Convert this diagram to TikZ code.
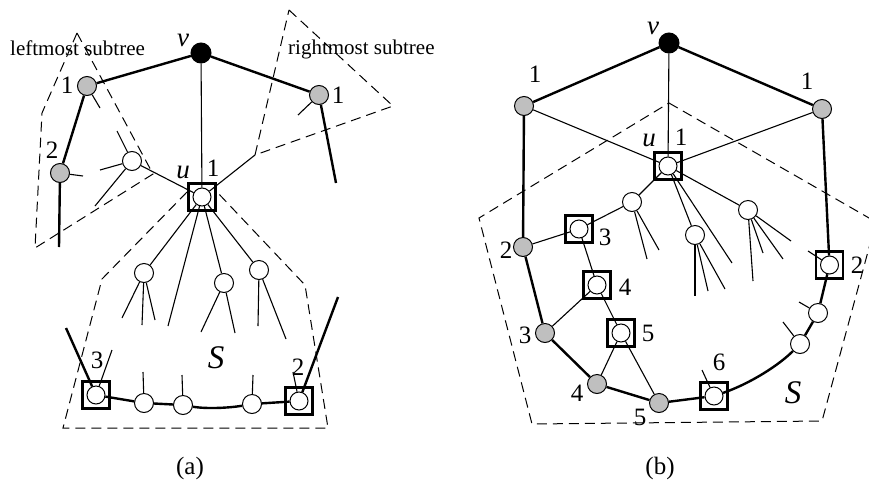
\documentclass[tikz,border=0pt]{standalone}
\usepackage{fontspec}
\setmainfont{Liberation Serif}
\pgfdeclarelayer{edges}
\pgfsetlayers{edges,main}
\begin{document}
\begin{tikzpicture}[x=1pt,y=-1pt,
  tedge/.style={line width=1.1pt},
  bedge/.style={line width=2.4pt},
  wn/.style={circle,draw,line width=1pt,fill=white,minimum size=19pt,inner sep=0pt},
  gn/.style={wn,fill=black!25},
  bn/.style={wn,fill=black,minimum size=20pt},
  bc/.style={circle,draw,line width=1pt,fill=white,minimum size=18pt,inner sep=0pt},
  bx/.style={draw,line width=2.4pt,minimum size=27pt,inner sep=0pt},
  lab/.style={font=\fontsize{25}{27}\selectfont,inner sep=0pt},
  ilab/.style={font=\fontsize{27}{29}\selectfont\itshape,inner sep=0pt},
  slab/.style={font=\fontsize{33}{35}\selectfont\itshape,inner sep=0pt},
  tlab/.style={font=\fontsize{21}{23}\selectfont,inner sep=0pt},
  dsh/.style={line width=1pt,dash pattern=on 10pt off 6pt}]
\useasboundingbox (0,0) rectangle (869,485);
\clip (0,0) rectangle (869,485);

% ---------------- panel (a) ----------------
\node[bn] (av) at (201,53) {};
\node[gn] (al1) at (87,86) {};
\node[gn] (al2) at (60,173) {};
\node[gn] (ar1) at (319,95) {};
\node[wn] (aw) at (132,161) {};
\node[bx] (aub) at (202,197) {};
\node[bc] (au) at (202,197) {};
\node[wn] (aA) at (144,273) {};
\node[wn] (aB) at (224,283) {};
\node[wn] (aC) at (259,270) {};
\node[bx] (a3b) at (96,395) {};
\node[bc] (a3) at (96,395) {};
\node[wn] (aD) at (144,403) {};
\node[wn] (aE) at (183,405) {};
\node[wn] (aF) at (252,404) {};
\node[bx] (a2b) at (299,401) {};
\node[bc] (a2) at (299,401) {};

\coordinate (al2e) at (59,247);
\coordinate (ar1e) at (336,183);
\coordinate (a3e) at (66,328);
\coordinate (a2e) at (338,297);
\coordinate (aRT) at (255,155);
\coordinate (al1s) at (100,108);
\coordinate (al2s) at (83,176);
\coordinate (ar1s) at (298,115);
\coordinate (aws1) at (117,131);
\coordinate (aws2) at (100,170);
\coordinate (aws3) at (95,206);
\coordinate (aul) at (168,326);
\coordinate (aA1) at (122,318);
\coordinate (aA2) at (142,325);
\coordinate (aA3) at (155,320);
\coordinate (aB1) at (201,332);
\coordinate (aB2) at (235,333);
\coordinate (aC1) at (258,326);
\coordinate (aC2) at (286,339);
\coordinate (a3s) at (112,350);
\coordinate (aDs) at (143,372);
\coordinate (aEs) at (182,375);
\coordinate (aFs) at (253,375);
\coordinate (a2s) at (293,372);

\begin{pgfonlayer}{edges}
\draw[bedge] (av) -- (al1);
\draw[bedge] (av) -- (ar1);
\draw[bedge] (al1) -- (al2);
\draw[bedge] (al2) -- (al2e);
\draw[bedge] (ar1) -- (ar1e);
\draw[bedge] (a3) -- (a3e);
\draw[bedge] (a2) -- (a2e);
\draw[bedge] (a3) -- (aD);
\draw[bedge] (aD) -- (aE);
\draw[bedge] (aE) .. controls +(23,4) and +(-23,4) .. (aF);
\draw[bedge] (aF) -- (a2);
\draw[tedge] (av) -- (au);
\draw[tedge] (aw) -- (au);
\draw[tedge] (au) -- (aRT);
\draw[tedge] (al1) -- (al1s);
\draw[tedge] (al2) -- (al2s);
\draw[tedge] (ar1) -- (ar1s);
\draw[tedge] (aw) -- (aws1);
\draw[tedge] (aw) -- (aws2);
\draw[tedge] (aw) -- (aws3);
\draw[tedge] (au) -- (aA);
\draw[tedge] (au) -- (aul);
\draw[tedge] (au) -- (aB);
\draw[tedge] (au) -- (aC);
\draw[tedge] (aA) -- (aA1);
\draw[tedge] (aA) -- (aA2);
\draw[tedge] (aA) -- (aA3);
\draw[tedge] (aB) -- (aB1);
\draw[tedge] (aB) -- (aB2);
\draw[tedge] (aC) -- (aC1);
\draw[tedge] (aC) -- (aC2);
\draw[tedge] (a3) -- (a3s);
\draw[tedge] (aD) -- (aDs);
\draw[tedge] (aE) -- (aEs);
\draw[tedge] (aF) -- (aFs);
\draw[tedge] (a2) -- (a2s);
% dashed regions
\draw[dsh] (77,33) -- (42,113) -- (35,248) -- (153,174) -- cycle;
\draw[dsh] (289,10) -- (393,106) -- (255,155) -- cycle;
\draw[dsh] (187,192) -- (102,279) -- (63,428) -- (328,428) -- (305,285) -- (217,192);
\end{pgfonlayer}

\node[ilab] (avl) at (183,40) {v};
\node[lab] (al1l) at (67,85) {1};
\node[lab] (al2l) at (52,150) {2};
\node[lab] (ar1l) at (338,95) {1};
\node[ilab] (aull) at (183,172) {u};
\node[lab] (aul1) at (213,168) {1};
\node[lab] (a3l) at (97,360) {3};
\node[lab] (a2l) at (298,367) {2};
\node[slab] (aS) at (216,358) {S};
\node[tlab,anchor=base west] (alt) at (10,55) {leftmost subtree};
\node[tlab,anchor=base west] (art) at (288,54) {rightmost subtree};
\node[lab] (capa) at (190,468) {(a)};

% ---------------- panel (b) ----------------
\node[bn] (bv) at (669,43) {};
\node[gn] (bl1) at (524,106) {};
\node[gn] (br1) at (822,109) {};
\node[bx] (bub) at (668,166) {};
\node[bc] (bu) at (668,166) {};
\node[gn] (bl2) at (523,247) {};
\node[gn] (bn3) at (545,333) {};
\node[gn] (bn4) at (597,384) {};
\node[gn] (bn5) at (659,403) {};
\node[bx] (bs3b) at (579,229) {};
\node[bc] (bs3) at (579,229) {};
\node[bx] (bs4b) at (597,285) {};
\node[bc] (bs4) at (597,285) {};
\node[bx] (bs5b) at (621,333) {};
\node[bc] (bs5) at (621,333) {};
\node[bx] (bs6b) at (714,396) {};
\node[bc] (bs6) at (714,396) {};
\node[wn] (bJ) at (800,344) {};
\node[wn] (bK) at (818,313) {};
\node[bx] (bs2b) at (829.5,265) {};
\node[bc] (bs2) at (829.5,265) {};
\node[wn] (bG) at (632,202) {};
\node[wn] (bH) at (695,235) {};
\node[wn] (bI) at (748,210) {};

\coordinate (bul) at (732,263);
\coordinate (bG1) at (647,259);
\coordinate (bG2) at (659,250);
\coordinate (bH1) at (695,296);
\coordinate (bH2) at (708,291);
\coordinate (bH3) at (725,289);
\coordinate (bI1) at (753,281);
\coordinate (bI2) at (763,253);
\coordinate (bI3) at (783,259);
\coordinate (bI4) at (791,241);
\coordinate (bs6s) at (702,370);
\coordinate (bJs) at (783,322);
\coordinate (bKs) at (799,302);
\coordinate (bs2s) at (808,251);

\begin{pgfonlayer}{edges}
\draw[bedge] (bv) -- (bl1);
\draw[bedge] (bv) -- (br1);
\draw[bedge] (bl1) -- (bl2);
\draw[bedge] (bl2) -- (bn3);
\draw[bedge] (bn3) -- (bn4);
\draw[bedge] (bn4) -- (bn5);
\draw[bedge] (bn5) -- (bs6);
\draw[bedge] (bs6) .. controls +(35,-12) and +(-22,22) .. (bJ);
\draw[bedge] (bJ) -- (bK);
\draw[bedge] (bK) -- (bs2);
\draw[bedge] (br1) -- (bs2);
\draw[tedge] (bv) -- (bu);
\draw[tedge] (bl1) -- (bu);
\draw[tedge] (br1) -- (bu);
\draw[tedge] (bu) -- (bG);
\draw[tedge] (bG) -- (bs3);
\draw[tedge] (bl2) -- (bs3);
\draw[tedge] (bs3) -- (bs4);
\draw[tedge] (bs4) -- (bn3);
\draw[tedge] (bs4) -- (bs5);
\draw[tedge] (bs5) -- (bn4);
\draw[tedge] (bs5) -- (bn5);
\draw[tedge] (bu) -- (bH);
\draw[tedge] (bu) -- (bul);
\draw[tedge] (bu) -- (bI);
\draw[tedge] (bG) -- (bG1);
\draw[tedge] (bG) -- (bG2);
\draw[tedge] (bH) -- (bH1);
\draw[tedge] (bH) -- (bH2);
\draw[tedge] (bH) -- (bH3);
\draw[tedge] (bI) -- (bI1);
\draw[tedge] (bI) -- (bI2);
\draw[tedge] (bI) -- (bI3);
\draw[tedge] (bI) -- (bI4);
\draw[tedge] (bs6) -- (bs6s);
\draw[tedge] (bJ) -- (bJs);
\draw[tedge] (bK) -- (bKs);
\draw[tedge] (bs2) -- (bs2s);
\draw[dsh] (669,103) -- (876,222) -- (822,421) -- (532,424) -- (479,218) -- cycle;
\end{pgfonlayer}

\node[ilab] (bvl) at (653,28) {v};
\node[lab] (bl1l) at (535,74) {1};
\node[lab] (br1l) at (807,81) {1};
\node[ilab] (bull) at (649,140) {u};
\node[lab] (bul1) at (681,137) {1};
\node[lab] (bl2l) at (506,250) {2};
\node[lab] (bn3l) at (525,335) {3};
\node[lab] (bn4l) at (577,393) {4};
\node[lab] (bn5l) at (640,417) {5};
\node[lab] (bs3l) at (605,237) {3};
\node[lab] (bs4l) at (625,287) {4};
\node[lab] (bs5l) at (648,333) {5};
\node[lab] (bs6l) at (719,362) {6};
\node[lab] (bs2l) at (857,265) {2};
\node[slab] (bS) at (793,393) {S};
\node[lab] (capb) at (660,468) {(b)};
\end{tikzpicture}
\end{document}
